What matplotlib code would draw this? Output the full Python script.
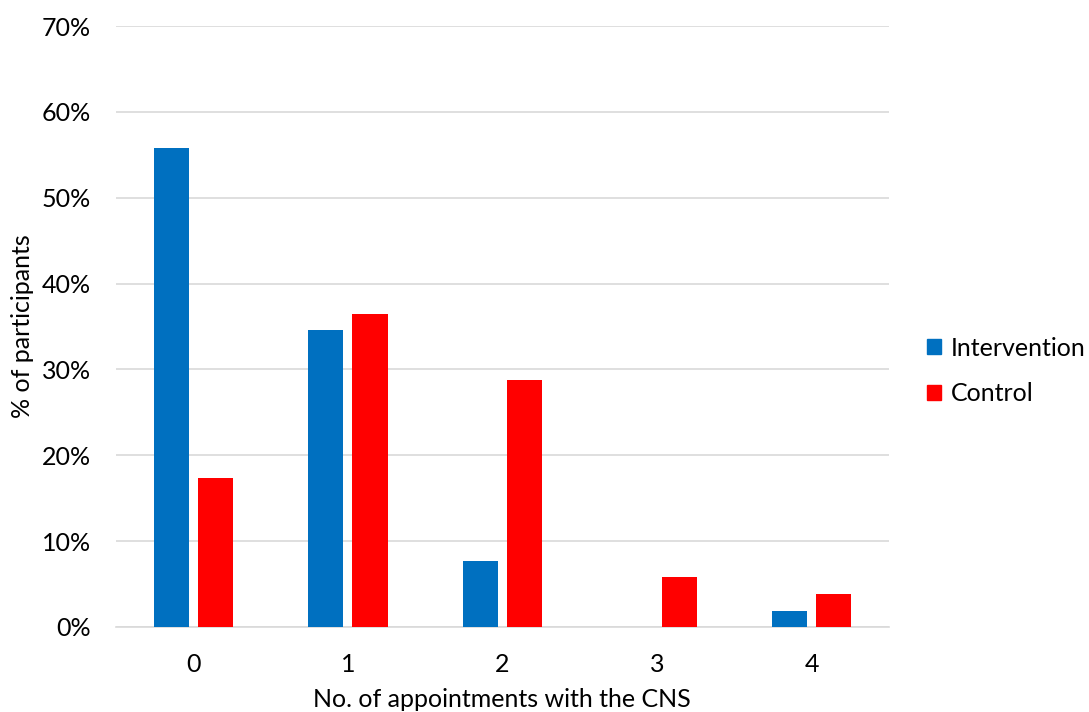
import matplotlib
matplotlib.use("Agg")
import matplotlib.pyplot as plt
from matplotlib.patches import Patch
import numpy as np

categories = ["0", "1", "2", "3", "4"]
intervention = [55.8, 34.6, 7.7, 0.0, 1.9]
control = [17.3, 36.5, 28.8, 5.8, 3.8]
yticks = [0, 10, 20, 30, 40, 50, 60, 70]

plt.rcParams['font.family'] = ['Lato', 'DejaVu Sans']

fig = plt.figure(figsize=(10.89, 7.12), dpi=100)
ax = fig.add_axes([116/1089, 1 - 627/712, (889-116)/1089, (627-26)/712])

x = np.arange(len(categories))
w = 0.227
off = 0.143
blue = "#0070C0"
red = "#FF0000"
ax.bar(x - off, intervention, w, color=blue, zorder=3)
ax.bar(x + off, control, w, color=red, zorder=3)

fs = 18
ax.set_xlim(-0.5, len(categories) - 0.5)
ax.set_ylim(0, 70)
ax.set_yticks(yticks)
ax.set_yticklabels([f"{v}%" for v in yticks], fontsize=fs)
ax.set_xticks(x)
ax.set_xticklabels(categories, fontsize=fs)
ax.tick_params(axis='both', length=0, colors="#000000")
ax.tick_params(axis='y', pad=18)
ax.tick_params(axis='x', pad=19)
ax.yaxis.grid(True, color="#D9D9D9", linewidth=1.2, zorder=0)
for s in ["top", "right", "left"]:
    ax.spines[s].set_visible(False)
ax.spines["bottom"].set_color("#D9D9D9")
ax.spines["bottom"].set_linewidth(1.2)

fig.text(22/1089, 1 - 326/712, "% of participants", fontsize=fs, rotation=90,
         ha="center", va="center")
fig.text(502/1089, 1/712, "No. of appointments with the CNS", fontsize=fs,
         ha="center", va="bottom")

handles = [Patch(color=blue, label="Intervention"), Patch(color=red, label="Control")]
fig.legend(handles=handles, loc="center left", bbox_to_anchor=(927/1089, 1 - 371/712),
           frameon=False, fontsize=fs, handlelength=0.55, handleheight=0.55,
           handletextpad=0.4, labelspacing=0.9, borderpad=0, borderaxespad=0)

fig.savefig("out.png", dpi=100)
